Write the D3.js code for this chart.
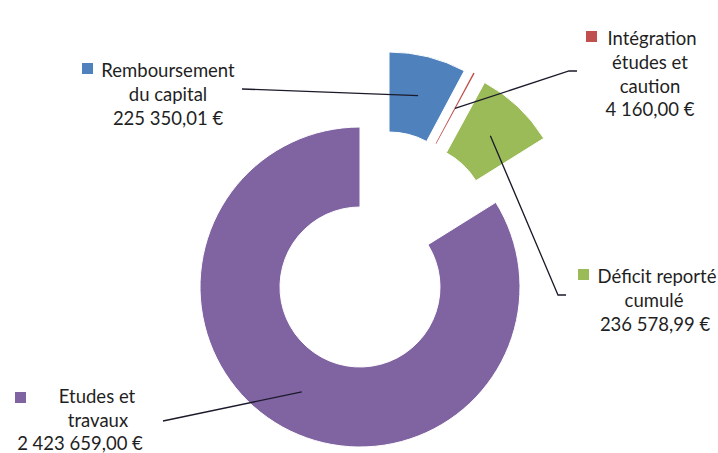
<!DOCTYPE html>
<html>
<head>
<meta charset="utf-8">
<script src="https://cdn.jsdelivr.net/npm/d3@7"></script>
<style>
  body { margin: 0; background: #fff; }
  svg { display: block; }
  text { font-family: Lato, "Open Sans", sans-serif; fill: #1f1f1f; }
</style>
</head>
<body>
<div id="chart"></div>
<script>
// data
var categories = ["Remboursement du capital", "Intégration études et caution", "Déficit reporté cumulé", "Etudes et travaux"];
var amounts = [225350.01, 4160.00, 236578.99, 2423659.00];
var amountLabels = ["225 350,01 €", "4 160,00 €", "236 578,99 €", "2 423 659,00 €"];
var labelLines = [
  ["Remboursement", "du capital"],
  ["Intégration", "études et", "caution"],
  ["Déficit reporté", "cumulé"],
  ["Etudes et", "travaux"]
];
var colors = ["#4f81bd", "#c0504d", "#9bbb59", "#8064a2"];

// svg params
var svgWidth = 718;
var svgHeight = 453;
var cx = 360, cy = 287;
var outerR = 160, innerR = 80;

// explode offsets for each slice
var explode = [[29, -75], [38, -73], [48, -64], [0, 0]];

// label boxes: line centres, first baseline, legend key, leader end points
var labelPos = [
  { x: [168, 168, 168], y: 77, key: [82, 63], lead: [[242, 89]] },
  { x: [652, 650, 650, 650], y: 45, key: [586, 31], lead: [[577, 71], [569, 71]] },
  { x: [657, 654, 655], y: 283, key: [578, 269], lead: [[566, 295], [558, 295]] },
  { x: [97, 98, 80], y: 403, key: [15, 392], lead: [[163, 421]] }
];
var lineH = 23.8;

var svg = d3.select("#chart").append("svg")
  .attr("width", svgWidth)
  .attr("height", svgHeight);

var pie = d3.pie().sort(null).value(d => d);
var arcs = pie(amounts);

var arc = d3.arc().innerRadius(innerR).outerRadius(outerR);
var midArc = d3.arc().innerRadius(120).outerRadius(120);

var g = svg.append("g").attr("transform", `translate(${cx}, ${cy})`);

g.selectAll("path.slice")
  .data(arcs)
  .enter()
  .append("path")
  .attr("class", "slice")
  .attr("transform", (d, i) => `translate(${explode[i][0]}, ${explode[i][1]})`)
  .attr("d", arc)
  .attr("fill", (d, i) => colors[i])
  .attr("stroke", "#fff")
  .attr("stroke-width", (d, i) => i == 1 ? 0 : 1);

// leader lines
var line = d3.line();
arcs.forEach(function(d, i) {
  var c = midArc.centroid(d);
  var pts = labelPos[i].lead.concat([[c[0] + cx + explode[i][0], c[1] + cy + explode[i][1]]]);
  svg.append("path")
    .attr("d", line(pts))
    .attr("fill", "none")
    .attr("stroke", "#1a1a2a")
    .attr("stroke-width", 1.3);
});

// labels
labelPos.forEach(function(p, i) {
  var lines = labelLines[i].concat([amountLabels[i]]);
  var grp = svg.append("g");
  lines.forEach(function(t, k) {
    grp.append("text")
      .attr("x", p.x[k])
      .attr("y", Math.min(p.y + k * lineH, 450))
      .attr("text-anchor", "middle")
      .attr("font-size", "18.5px")
      .text(t);
  });
  // legend key
  grp.append("rect")
    .attr("x", p.key[0])
    .attr("y", p.key[1])
    .attr("width", 11)
    .attr("height", 11)
    .attr("fill", colors[i]);
});
</script>
</body>
</html>
